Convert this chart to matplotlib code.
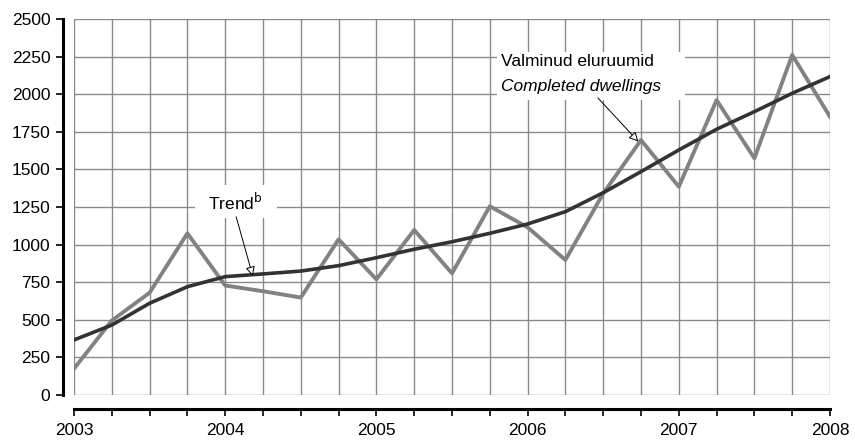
#!/usr/bin/env python3
# Valminud eluruumid kvartalite kaupa, 2003-2008

from matplotlib import pyplot as plt
from matplotlib.patches import Rectangle

plt.rcParams['font.family'] = ['Liberation Sans', 'DejaVu Sans']

# kvartalid 2003 I ... 2008 I
kvartalid = ['2003 I', '2003 II', '2003 III', '2003 IV',
             '2004 I', '2004 II', '2004 III', '2004 IV',
             '2005 I', '2005 II', '2005 III', '2005 IV',
             '2006 I', '2006 II', '2006 III', '2006 IV',
             '2007 I', '2007 II', '2007 III', '2007 IV',
             '2008 I']

valminud = [175, 495, 680, 1075, 728, 690, 648, 1035, 769, 1097, 809,
            1255, 1115, 898, 1340, 1695, 1385, 1961, 1574, 2261, 1850]

trend = [366, 465, 610, 720, 787, 805, 824, 860, 913, 969, 1019,
         1075, 1137, 1219, 1345, 1485, 1629, 1767, 1884, 2006, 2117]

x = list(range(len(kvartalid)))

fig = plt.figure(figsize=(8.55, 4.42), dpi=100)
ax = fig.add_axes([74/855, 1-395/442, (830-74)/855, (395-19)/442])

ax.plot(x, valminud, color='#828282', linewidth=2.8, zorder=3)
ax.plot(x, trend, color='#333333', linewidth=2.6, zorder=4)

ax.set_xlim(0, len(kvartalid) - 1)
ax.set_ylim(0, 2500)
ax.set_yticks(range(0, 2501, 250))
ax.set_xticks(x)
ax.set_xticklabels([k[:4] if k.endswith(' I') else '' for k in kvartalid])

ax.grid(which='major', axis='both', color='#8a8a8a', linewidth=1.0, zorder=1)
ax.set_axisbelow(True)

for s in ['top', 'right']:
    ax.spines[s].set_visible(False)
ax.spines['left'].set_position(('outward', 8))
ax.spines['bottom'].set_position(('outward', 10))
ax.spines['left'].set_linewidth(2.2)
ax.spines['bottom'].set_linewidth(2.2)

ax.tick_params(axis='both', length=5, width=1.2, color='black', labelsize=12.5)
ax.tick_params(axis='y', pad=4)
ax.tick_params(axis='x', pad=5)

pijl = dict(arrowstyle='-|>', fc='white', ec='black', lw=0.7,
            mutation_scale=14, shrinkA=0, shrinkB=0)

# Trend label (witte achtergrond)
ax.add_patch(Rectangle((3.2, 1177), 2.17, 219, fc='white', ec='none', zorder=2))
ax.text(4.26, 1285, 'Trend$^{\\mathrm{b}}$', fontsize=12.5, ha='center', va='center', zorder=6)
ax.annotate('', xy=(4.73, 791), xytext=(4.29, 1185), arrowprops=pijl, zorder=7)

# Valminud eluruumid label
ax.add_patch(Rectangle((11.19, 1961), 4.97, 320, fc='white', ec='none', zorder=2))
ax.text(11.3, 2216, 'Valminud eluruumid', fontsize=12.5, ha='left', va='center', zorder=6)
ax.text(11.3, 2050, 'Completed dwellings', fontsize=12.5, ha='left', va='center',
        style='italic', zorder=6)
ax.annotate('', xy=(14.93, 1685), xytext=(13.86, 1975), arrowprops=pijl, zorder=7)

plt.savefig('out.png', format='png')
